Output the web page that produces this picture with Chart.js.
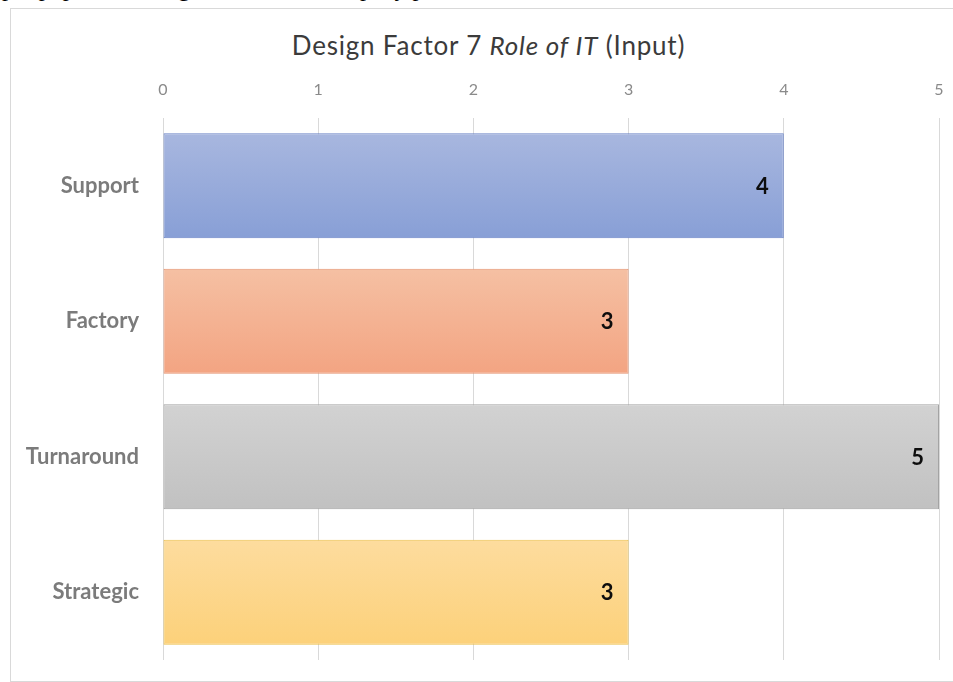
<!DOCTYPE html>
<html>
<head>
<meta charset="utf-8">
<script src="https://cdn.jsdelivr.net/npm/chart.js@4.4.1/dist/chart.umd.min.js"></script>
<style>
  html, body { margin: 0; padding: 0; background: #fff; }
  body { width: 953px; height: 682px; position: relative; overflow: hidden; }
  .doc-line { position: absolute; left: 2px; top: -25px; font-family: "Liberation Serif", serif; font-size: 24px; color: #000; white-space: nowrap; }
  .frame { position: absolute; left: 10px; top: 8px; width: 960px; height: 672px; border: 1px solid #d9d9d9; background: #fff; }
  .chart-title { position: absolute; left: 12px; top: 29px; width: 953px; text-align: center; font-family: Lato, "Open Sans", sans-serif; font-size: 26px; letter-spacing: 0.8px; color: #3b3b3b; }
  .chart-box { position: absolute; left: 10px; top: 9px; width: 943px; height: 673px; }
</style>
</head>
<body>
<div class="doc-line">pre populated design factor with company profile</div>
<div class="frame"></div>
<div class="chart-title">Design Factor 7 <i>Role of IT</i> (Input)</div>
<div class="chart-box"><canvas id="roleChart"></canvas></div>
<script>
// chart data
var categories = ['Support', 'Factory', 'Turnaround', 'Strategic'];
var roleValues = [4, 3, 5, 3];
var xTicks = [0, 1, 2, 3, 4, 5];

// bar looks (top colour, bottom colour) and edges
var barFills = [['#a8b7df', '#889fd6'], ['#f5c0a3', '#f3a482'], ['#d2d2d2', '#c1c1c1'], ['#fddc9e', '#fcd17a']];
var barEdges = ['#6a83c6', '#e5926f', '#a3a3a3', '#ecc04a'];
var barPct = 0.775;

function barGradient(c) {
    var chart = c.chart, area = chart.chartArea;
    var i = c.dataIndex;
    if (!area || !chart.scales.y) return barFills[i][1];
    var yc = chart.scales.y.getPixelForValue(i);
    var half = area.height / categories.length * barPct / 2;
    var g = chart.ctx.createLinearGradient(0, yc - half, 0, yc + half);
    g.addColorStop(0, barFills[i][0]);
    g.addColorStop(1, barFills[i][1]);
    return g;
}

// value labels inside the bar ends
var valueLabels = {
    id: 'valueLabels',
    afterDatasetsDraw: function(chart) {
        var ctx = chart.ctx;
        ctx.save();
        ctx.font = 'bold 22px Lato, "Open Sans", sans-serif';
        ctx.fillStyle = '#0d0d0d';
        ctx.textAlign = 'right';
        ctx.textBaseline = 'middle';
        chart.getDatasetMeta(0).data.forEach(function(bar, i) {
            ctx.fillText(String(roleValues[i]), bar.x - 15, bar.y + 1);
        });
        ctx.restore();
    }
};

new Chart(document.getElementById('roleChart'), {
    type: 'bar',
    data: {
        labels: categories,
        datasets: [{
            data: roleValues,
            backgroundColor: barGradient,
            borderColor: barEdges,
            borderWidth: 1,
            borderSkipped: false,
            barPercentage: barPct,
            categoryPercentage: 1
        }]
    },
    plugins: [valueLabels],
    options: {
        indexAxis: 'y',
        responsive: true,
        maintainAspectRatio: false,
        animation: false,
        layout: { padding: { top: 60, right: 14, bottom: 22, left: 0 } },
        plugins: { legend: { display: false }, tooltip: { enabled: false } },
        scales: {
            x: {
                position: 'top',
                min: 0,
                max: 5,
                afterBuildTicks: function(s) { s.ticks = xTicks.map(function(v) { return { value: v }; }); },
                afterFit: function(s) { s.height = 49; s.paddingLeft = 0; s.paddingRight = 0; },
                ticks: { color: '#8a8a8a', padding: 19, font: { family: 'Lato, "Open Sans", sans-serif', size: 16 } },
                grid: { color: '#d9d9d9', drawTicks: false },
                border: { display: false }
            },
            y: {
                afterFit: function(s) { s.width = 153; s.paddingTop = 0; s.paddingBottom = 0; },
                ticks: { color: '#7b7b7b', padding: 24, font: { family: 'Lato, "Open Sans", sans-serif', size: 22, weight: 'bold' } },
                grid: { display: false, drawTicks: false },
                border: { display: false }
            }
        }
    }
});
</script>
</body>
</html>
